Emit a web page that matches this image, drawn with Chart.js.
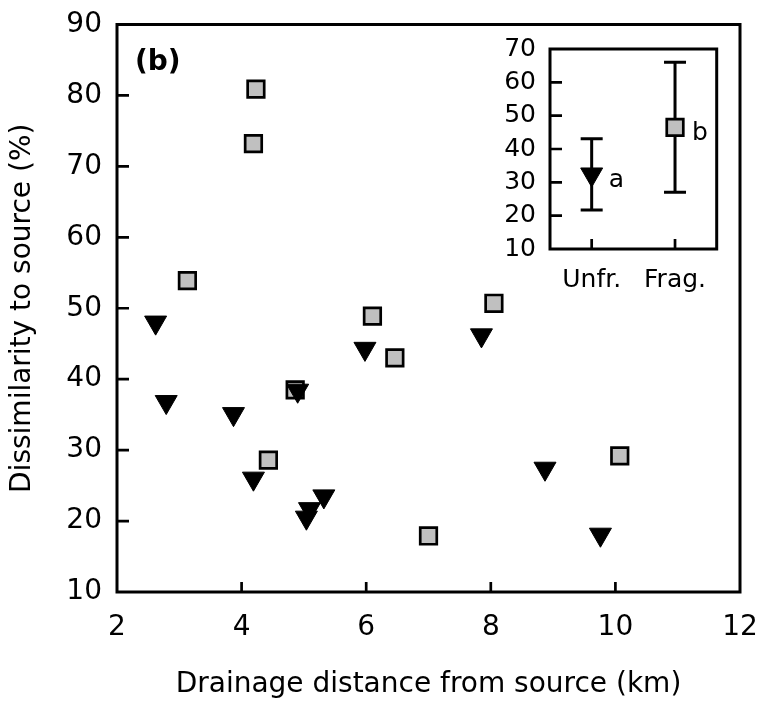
<!DOCTYPE html>
<html>
<head>
<meta charset="utf-8">
<script src="https://cdn.jsdelivr.net/npm/chart.js@4.4.0/dist/chart.umd.min.js"></script>
<style>
  body { margin: 0; background: #fff; }
  #wrap { position: relative; width: 758px; height: 711px; }
  #mainChart { position: absolute; left: 0; top: 0; }
  #insetChart { position: absolute; left: 470px; top: 30px; }
</style>
</head>
<body>
<div id="wrap">
  <canvas id="mainChart" width="758" height="711"></canvas>
  <canvas id="insetChart" width="262" height="270"></canvas>
</div>
<script>
// Unfragmented sites (black triangles)
const unfrKm = [2.62, 2.79, 3.87, 4.19, 4.90, 5.04, 5.09, 5.32, 5.98, 7.85, 8.87, 9.76];
const unfrDissim = [48.0, 36.8, 35.1, 26.0, 38.4, 20.5, 21.7, 23.5, 44.3, 46.2, 27.4, 18.1];

// Fragmented sites (grey squares)
const fragKm = [3.13, 4.19, 4.23, 4.43, 4.86, 6.10, 6.46, 7.00, 8.05, 10.07];
const fragDissim = [53.9, 73.2, 80.9, 28.6, 38.5, 48.9, 43.0, 17.9, 50.7, 29.2];

const xTicks = [2, 4, 6, 8, 10, 12];
const yTicks = [10, 20, 30, 40, 50, 60, 70, 80, 90];

// Inset: group mean +/- SD
const groups = ['Unfr.', 'Frag.'];
const groupMean = [32.4, 46.5];
const groupSd = [10.7, 19.5];
const groupLetter = ['a', 'b'];
const insetTicks = [10, 20, 30, 40, 50, 60, 70];

const FONT = '"DejaVu Sans", "Liberation Sans", sans-serif';
Chart.defaults.font.family = FONT;
Chart.defaults.color = '#000';

const toPoints = (xs, ys) => xs.map((x, i) => ({ x: x, y: ys[i] }));
const setTicks = list => scale => { scale.ticks = list.map(v => ({ value: v })); };

// fixed axis sizes; edge label overhang is handled by layout padding
const fixWidth = w => scale => {
  scale.width = w;
  scale.paddingTop = 0;
  scale.paddingBottom = 0;
};
const fixHeight = h => scale => {
  scale.height = h;
  scale.paddingLeft = 0;
  scale.paddingRight = 0;
};

// box around the plot area plus short inward tick marks
const framePlugin = {
  id: 'frame',
  beforeDatasetsDraw(chart, args, opts) {
    const { ctx, chartArea: a, scales } = chart;
    ctx.save();
    ctx.strokeStyle = '#000';
    ctx.lineCap = 'butt';
    ctx.lineWidth = opts.tickWidth;
    ctx.beginPath();
    scales.x.ticks.forEach((t, i) => {
      const px = scales.x.getPixelForTick(i);
      if (px - a.left < 2 || a.right - px < 2) return;
      ctx.moveTo(px, a.bottom);
      ctx.lineTo(px, a.bottom - opts.xTick);
    });
    scales.y.ticks.forEach((t, i) => {
      const py = scales.y.getPixelForTick(i);
      if (py - a.top < 2 || a.bottom - py < 2) return;
      ctx.moveTo(a.left, py);
      ctx.lineTo(a.left + opts.yTick, py);
    });
    ctx.stroke();
    ctx.lineWidth = opts.lineWidth;
    ctx.lineJoin = 'miter';
    ctx.strokeRect(a.left, a.top, a.right - a.left, a.bottom - a.top);
    ctx.restore();
  }
};

const panelLabel = {
  id: 'panelLabel',
  afterDraw(chart) {
    const { ctx, chartArea: a } = chart;
    ctx.save();
    ctx.font = 'bold 28px ' + FONT;
    ctx.fillStyle = '#000';
    ctx.textBaseline = 'middle';
    ctx.fillText('(b)', a.left + 18, a.top + 38);
    ctx.restore();
  }
};

new Chart(document.getElementById('mainChart'), {
  type: 'scatter',
  data: {
    datasets: [
      {
        label: 'Unfragmented',
        data: toPoints(unfrKm, unfrDissim),
        pointStyle: 'triangle',
        rotation: 180,
        radius: 12.7,
        backgroundColor: '#000',
        borderColor: '#000',
        borderWidth: 1
      },
      {
        label: 'Fragmented',
        data: toPoints(fragKm, fragDissim),
        pointStyle: 'rect',
        radius: 11.7,
        backgroundColor: '#c0c0c0',
        borderColor: '#000',
        borderWidth: 2.7
      }
    ]
  },
  options: {
    responsive: false,
    animation: false,
    events: [],
    layout: { padding: { left: 0, top: 24.5, right: 18, bottom: 0 } },
    plugins: {
      legend: { display: false },
      tooltip: { enabled: false },
      frame: { lineWidth: 3, tickWidth: 2.7, xTick: 10, yTick: 12 }
    },
    scales: {
      x: {
        type: 'linear',
        min: 2,
        max: 12,
        afterBuildTicks: setTicks(xTicks),
        afterFit: fixHeight(119),
        grid: { display: false, drawTicks: false },
        border: { display: false },
        ticks: { font: { size: 28 }, padding: 19, autoSkip: false, maxRotation: 0 },
        title: {
          display: true,
          text: 'Drainage distance from source (km)',
          font: { size: 28 },
          padding: { top: 0, bottom: 9 }
        }
      },
      y: {
        min: 10,
        max: 90,
        afterBuildTicks: setTicks(yTicks),
        afterFit: fixWidth(117),
        grid: { display: false, drawTicks: false },
        border: { display: false },
        ticks: { font: { size: 28 }, padding: 15, autoSkip: false },
        title: {
          display: true,
          text: 'Dissimilarity to source (%)',
          font: { size: 28 },
          padding: { top: 6, bottom: 0 }
        }
      }
    }
  },
  plugins: [framePlugin, panelLabel]
});

// SD whiskers with caps, drawn under the markers
const errorBars = {
  id: 'errorBars',
  beforeDatasetsDraw(chart) {
    const { ctx, scales: { x, y } } = chart;
    ctx.save();
    ctx.strokeStyle = '#000';
    ctx.lineWidth = 3;
    ctx.beginPath();
    groups.forEach((g, i) => {
      const px = x.getPixelForValue(i);
      const lo = y.getPixelForValue(groupMean[i] - groupSd[i]);
      const hi = y.getPixelForValue(groupMean[i] + groupSd[i]);
      ctx.moveTo(px, lo); ctx.lineTo(px, hi);
      ctx.moveTo(px - 11, lo); ctx.lineTo(px + 11, lo);
      ctx.moveTo(px - 11, hi); ctx.lineTo(px + 11, hi);
    });
    ctx.stroke();
    ctx.restore();
  },
  afterDatasetsDraw(chart) {
    const { ctx } = chart;
    const pts = chart.getDatasetMeta(0).data;
    ctx.save();
    ctx.font = '25px ' + FONT;
    ctx.fillStyle = '#000';
    ctx.textBaseline = 'alphabetic';
    pts.forEach((p, i) => {
      ctx.fillText(groupLetter[i], p.x + 17, p.y + 13);
    });
    ctx.restore();
  }
};

new Chart(document.getElementById('insetChart'), {
  type: 'line',
  data: {
    labels: groups,
    datasets: [{
      data: groupMean,
      showLine: false,
      pointStyle: ['triangle', 'rect'],
      pointRotation: [180, 0],
      pointRadius: [12.7, 11.7],
      pointBackgroundColor: ['#000', '#c0c0c0'],
      pointBorderColor: '#000',
      pointBorderWidth: [1, 2.7]
    }]
  },
  options: {
    responsive: false,
    animation: false,
    events: [],
    layout: { padding: { left: 0, top: 19, right: 15.3, bottom: 0 } },
    plugins: {
      legend: { display: false },
      tooltip: { enabled: false },
      frame: { lineWidth: 3, tickWidth: 2.7, xTick: 10, yTick: 12 }
    },
    scales: {
      x: {
        type: 'category',
        offset: true,
        afterFit: fixHeight(51),
        grid: { display: false, drawTicks: false },
        border: { display: false },
        ticks: { font: { size: 25 }, padding: 16, autoSkip: false, maxRotation: 0 }
      },
      y: {
        min: 10,
        max: 70,
        afterBuildTicks: setTicks(insetTicks),
        afterFit: fixWidth(80),
        grid: { display: false, drawTicks: false },
        border: { display: false },
        ticks: { font: { size: 25 }, padding: 14, autoSkip: false }
      }
    }
  },
  plugins: [framePlugin, errorBars]
});
</script>
</body>
</html>
